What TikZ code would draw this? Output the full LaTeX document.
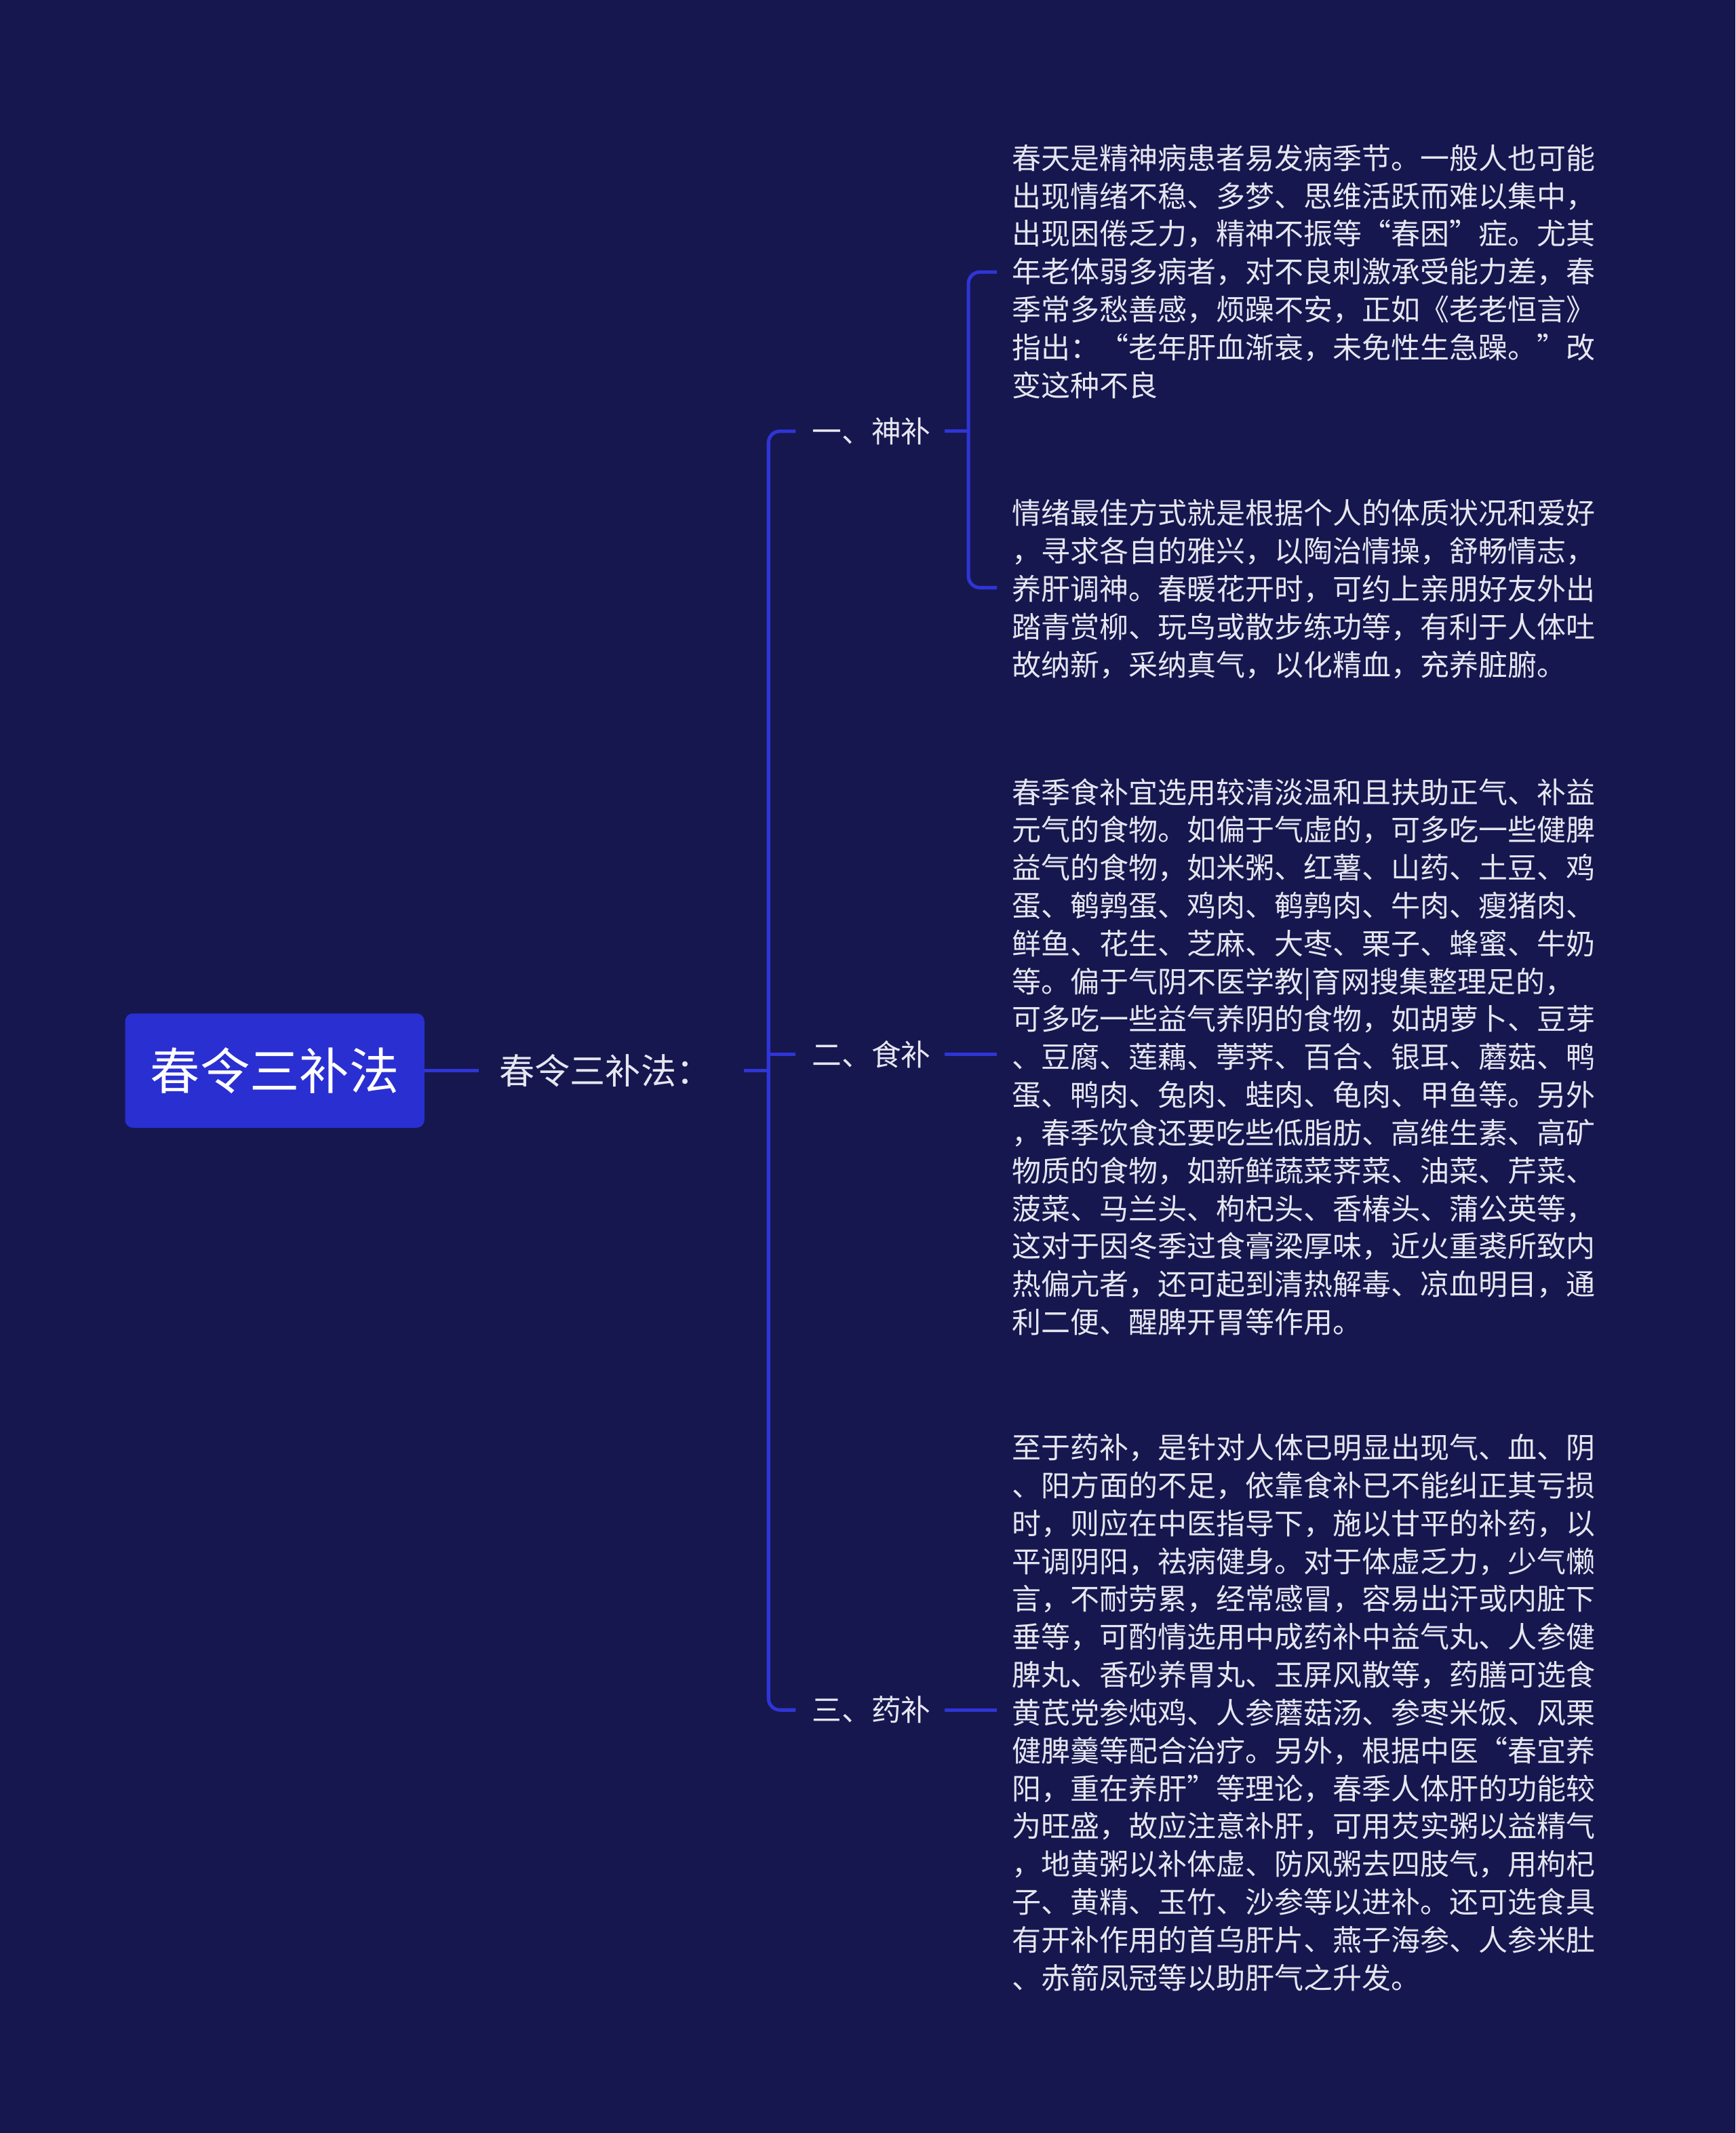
\documentclass[tikz,border=0pt]{standalone}
\usepackage{fontspec}
\setmainfont{Noto Sans CJK SC}
\definecolor{bg}{HTML}{16174F}
\definecolor{ln}{HTML}{2F35D6}
\definecolor{rootc}{HTML}{2A2FD2}
\definecolor{txt}{HTML}{E6E6F0}
\begin{document}
\begin{tikzpicture}[x=0.05cm,y=-0.05cm,
  conn/.style={draw=ln,line width=3.6pt,rounded corners=12},
  leaf/.style={anchor=north west,inner sep=0,align=left,text=txt,font=\fontsize{30.5}{39.6}\selectfont},
  mid/.style={anchor=west,inner sep=0,text=txt,font=\fontsize{31}{36}\selectfont}]
\fill[bg] (0,0) rectangle (1276,1568);
\useasboundingbox (0,0) rectangle (1276,1568);
\node[fill=rootc,rounded corners=8,text=white,minimum width=220*0.05cm,minimum height=84*0.05cm,font=\fontsize{52}{60}\selectfont] (root) at (202,787) {春令三补法};
\node[inner sep=0,anchor=west,text=txt,font=\fontsize{37}{44}\selectfont] (sub) at (367,787) {春令三补法：};
\draw[conn] (root.east) -- (sub.west -| 352,0);
\coordinate (hub) at (565,787);
\node[mid] (b1) at (597,317) {一、神补};
\node[mid] (b2) at (597,775) {二、食补};
\node[mid] (b3) at (597,1257) {三、药补};
\draw[conn] (547,787) -- (hub);
\draw[conn] (b1.west) ++(-12,0) -- (565,317) -- (565,1257) -- ([xshift=-12*0.05cm]b3.west);
\draw[conn] (565,775) -- ([xshift=-12*0.05cm]b2.west);
\node[leaf] (t1) at (744,106) {春天是精神病患者易发病季节。一般人也可能\\出现情绪不稳、多梦、思维活跃而难以集中，\\出现困倦乏力，精神不振等“春困”症。尤其\\年老体弱多病者，对不良刺激承受能力差，春\\季常多愁善感，烦躁不安，正如《老老恒言》\\指出：“老年肝血渐衰，未免性生急躁。”改\\变这种不良};
\node[leaf] (t2) at (744,367) {情绪最佳方式就是根据个人的体质状况和爱好\\，寻求各自的雅兴，以陶治情操，舒畅情志，\\养肝调神。春暖花开时，可约上亲朋好友外出\\踏青赏柳、玩鸟或散步练功等，有利于人体吐\\故纳新，采纳真气，以化精血，充养脏腑。};
\node[leaf] (t3) at (744,572) {春季食补宜选用较清淡温和且扶助正气、补益\\元气的食物。如偏于气虚的，可多吃一些健脾\\益气的食物，如米粥、红薯、山药、土豆、鸡\\蛋、鹌鹑蛋、鸡肉、鹌鹑肉、牛肉、瘦猪肉、\\鲜鱼、花生、芝麻、大枣、栗子、蜂蜜、牛奶\\等。偏于气阴不医学教|育网搜集整理足的，\\可多吃一些益气养阴的食物，如胡萝卜、豆芽\\、豆腐、莲藕、荸荠、百合、银耳、蘑菇、鸭\\蛋、鸭肉、兔肉、蛙肉、龟肉、甲鱼等。另外\\，春季饮食还要吃些低脂肪、高维生素、高矿\\物质的食物，如新鲜蔬菜荠菜、油菜、芹菜、\\菠菜、马兰头、枸杞头、香椿头、蒲公英等，\\这对于因冬季过食膏梁厚味，近火重裘所致内\\热偏亢者，还可起到清热解毒、凉血明目，通\\利二便、醒脾开胃等作用。};
\node[leaf] (t4) at (744,1054) {至于药补，是针对人体已明显出现气、血、阴\\、阳方面的不足，依靠食补已不能纠正其亏损\\时，则应在中医指导下，施以甘平的补药，以\\平调阴阳，祛病健身。对于体虚乏力，少气懒\\言，不耐劳累，经常感冒，容易出汗或内脏下\\垂等，可酌情选用中成药补中益气丸、人参健\\脾丸、香砂养胃丸、玉屏风散等，药膳可选食\\黄芪党参炖鸡、人参蘑菇汤、参枣米饭、风栗\\健脾羹等配合治疗。另外，根据中医“春宜养\\阳，重在养肝”等理论，春季人体肝的功能较\\为旺盛，故应注意补肝，可用芡实粥以益精气\\，地黄粥以补体虚、防风粥去四肢气，用枸杞\\子、黄精、玉竹、沙参等以进补。还可选食具\\有开补作用的首乌肝片、燕子海参、人参米肚\\、赤箭凤冠等以助肝气之升发。};
\draw[conn] ([xshift=10*0.05cm]b1.east) -- (712,317);
\draw[conn] (733,200) -- (712,200) -- (712,432) -- (733,432);
\draw[conn] ([xshift=10*0.05cm]b2.east) -- (733,775);
\draw[conn] ([xshift=10*0.05cm]b3.east) -- (733,1257);
\end{tikzpicture}
\end{document}
